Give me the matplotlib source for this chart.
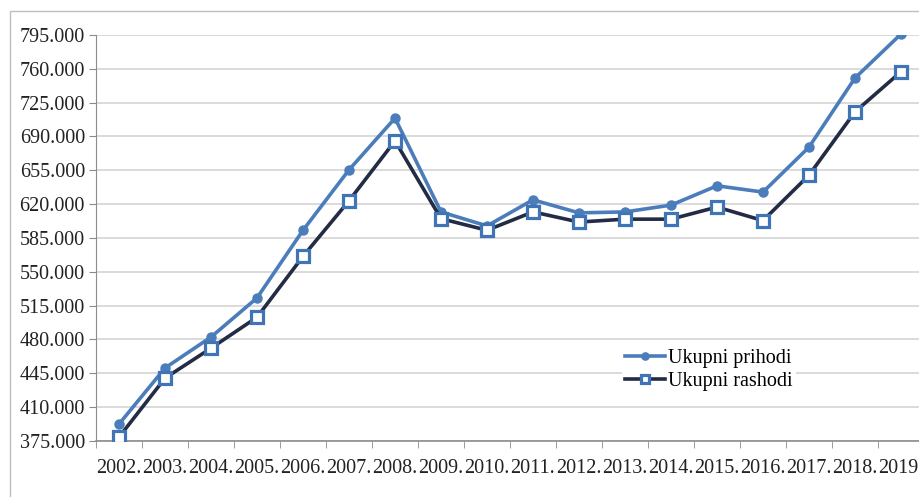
import matplotlib.pyplot as plt
from matplotlib.patches import Rectangle
from matplotlib.ticker import FixedLocator, FuncFormatter

# data (values in thousands)
years = ['2002.', '2003.', '2004.', '2005.', '2006.', '2007.', '2008.', '2009.', '2010.',
         '2011.', '2012.', '2013.', '2014.', '2015.', '2016.', '2017.', '2018.', '2019.']
prihodi = [392.5, 450.5, 482.5, 523, 593, 655.5, 709, 612, 597.5,
           624.5, 611, 612, 619, 639, 632.5, 679, 750.5, 796]
rashodi = [379, 440, 471, 503, 566, 623.5, 685.5, 605, 593,
           612, 601.5, 604.5, 604.5, 617, 603, 650, 715.5, 757]
y_ticks = [375, 410, 445, 480, 515, 550, 585, 620, 655, 690, 725, 760, 795]

plt.rcParams['font.family'] = ['Liberation Serif', 'DejaVu Serif']

fig = plt.figure(figsize=(9.2, 4.97), dpi=100)
W, H = 920, 497

# outer chart border (cropped at the right and bottom)
fig.patches.append(Rectangle((10 / W, -0.1), 1.2, 1 - 11 / H + 0.1, transform=fig.transFigure,
                             fill=False, edgecolor='#bfbfbf', linewidth=1.0))

ax = fig.add_axes([96 / W, (H - 441) / H, 828 / W, (441 - 35) / H])
x = list(range(len(years)))

ax.plot(x, prihodi, color='#4a7dba', linewidth=2.6, marker='o', markersize=6.5,
        markerfacecolor='#4a7dba', markeredgecolor='#4a7dba', label='Ukupni prihodi', zorder=3)
ax.plot(x, rashodi, color='#232b45', linewidth=2.6, marker='s', markersize=8,
        markerfacecolor='white', markeredgecolor='#3f74b6', markeredgewidth=2.3,
        label='Ukupni rashodi', zorder=4)

ax.set_xlim(-0.5, len(years) - 0.5)
ax.set_ylim(375, 795)
ax.set_yticks(y_ticks)
ax.yaxis.set_major_formatter(FuncFormatter(lambda v, p: f'{int(v)}.000'))
ax.set_xticks(x)
ax.set_xticklabels(years)
ax.xaxis.set_minor_locator(FixedLocator([i - 0.5 for i in range(len(years) + 1)]))
ax.tick_params(axis='x', which='major', length=0, pad=13, labelsize=14.5, colors='#222222')
ax.tick_params(axis='x', which='minor', length=5, color='#8c8c8c', direction='out')
ax.tick_params(axis='y', length=5, color='#8c8c8c', pad=3, labelsize=14.5, labelcolor='#222222')

ax.grid(axis='y', color='#d4d4d4', linewidth=1.2)
ax.set_axisbelow(True)
for s in ['top', 'right']:
    ax.spines[s].set_visible(False)
ax.spines['left'].set_color('#8c8c8c')
ax.spines['bottom'].set_color('#8c8c8c')
ax.spines['bottom'].set_linewidth(1.2)

leg = ax.legend(loc='upper left', bbox_to_anchor=((612 - 96) / 828, (441 - 336) / 406),
                frameon=True, fancybox=False, edgecolor='none', framealpha=1,
                fontsize=14.5, handlelength=2.0, handletextpad=0.15, labelspacing=0.2,
                borderpad=0.15, markerscale=0.8)

fig.savefig('out.png', dpi=100)
